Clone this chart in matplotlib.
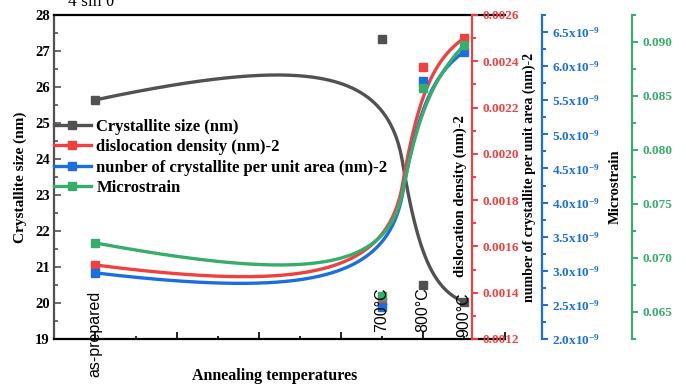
import numpy as np
import matplotlib
matplotlib.use('Agg')
import matplotlib.pyplot as plt
from matplotlib.lines import Line2D
from matplotlib.ticker import MultipleLocator, FuncFormatter

plt.rcParams['font.family'] = 'Liberation Serif'
plt.rcParams['font.weight'] = 'bold'
plt.rcParams['mathtext.fontset'] = 'custom'
plt.rcParams['mathtext.rm'] = 'Liberation Serif:bold'
plt.rcParams['mathtext.bf'] = 'Liberation Serif:bold'

# data
temps = [0, 700, 800, 900]
temp_labels = ['as-prepared', '700°C', '800°C', '900°C']
crystallite = [25.64, 27.33, 20.50, 20.03]
dislocation = [0.00152, 0.00136, 0.002375, 0.00250]
number_area = [2.97e-9, 2.47e-9, 5.78e-9, 6.21e-9]
microstrain = [0.0714, 0.0665, 0.0857, 0.0897]

c_gray, c_red, c_blue, c_green = '#515151', '#F14040', '#1A6FDF', '#37AD6B'


def bspline(xs, ys, n=150, w=1.3):
    # B-spline style connecting line: ends on first/last point, pulled toward the others
    P = np.column_stack([xs, ys]).astype(float)
    k = len(P) - 2
    t = np.linspace(0, 1, n)[:, None]
    out = []
    for i in range(k):
        a = P[0] if i == 0 else (P[i] + P[i + 1]) / 2
        b = P[i + 1]
        c = P[-1] if i == k - 1 else (P[i + 1] + P[i + 2]) / 2
        b0, b1, b2 = (1 - t) ** 2, 2 * w * t * (1 - t), t ** 2
        out.append((b0 * a + b1 * b + b2 * c) / (b0 + b1 + b2))
    s = np.vstack(out)
    return s[:, 0], s[:, 1]


fig = plt.figure(figsize=(6.86, 3.85), dpi=100)
ax = fig.add_axes([54 / 686, 46 / 385, 451 / 686, 324 / 385])
ax2 = ax.twinx()
ax3 = ax.twinx()
ax4 = ax.twinx()

lw = 2.4
ms = 5.5
series = [(ax, crystallite, c_gray), (ax2, dislocation, c_red),
          (ax3, number_area, c_blue), (ax4, microstrain, c_green)]
for a, ys, c in series:
    xc, yc = bspline(temps, ys)
    a.plot(xc, yc, color=c, lw=lw, zorder=3)
    a.plot(temps, ys, ls='none', marker='s', ms=ms, color=c, zorder=4)

# main axes
ax.set_xlim(-100, 1000)
ax.set_ylim(19, 28)
ax.xaxis.set_major_locator(MultipleLocator(200))
ax.xaxis.set_minor_locator(MultipleLocator(100))
ax.yaxis.set_major_locator(MultipleLocator(1))
ax.yaxis.set_minor_locator(MultipleLocator(0.5))
ax.tick_params(axis='x', which='both', direction='in', labelbottom=False, top=False, width=1.2)
ax.tick_params(axis='x', which='major', length=5)
ax.tick_params(axis='x', which='minor', length=2.5)
ax.tick_params(axis='y', which='both', direction='in', colors=c_gray, labelcolor='black',
               labelsize=10.5, width=1.2, pad=3)
ax.tick_params(axis='y', which='major', length=5)
ax.tick_params(axis='y', which='minor', length=3)
ax.spines['right'].set_visible(False)
ax.spines['left'].set_color(c_gray)
for s in ['left', 'top', 'bottom']:
    ax.spines[s].set_linewidth(1.6)
ax.set_ylabel('Crystallite size (nm)', fontsize=11, fontweight='bold')
ax.yaxis.set_label_coords(-0.06, 0.5)
ax.set_xlabel('Annealing temperatures', fontsize=11.5, fontweight='bold')
ax.xaxis.set_label_coords(0.49, -0.09)

# right axes
right_specs = [
    (ax2, c_red, 0.927, (0.0012, 0.0026), 0.0002, 0.0001,
     lambda v, p: '%.4f' % v, 'dislocation density (nm)-2', (0.90, 0.44), 10.5),
    (ax3, c_blue, 1.082, (2.0e-9, 6.75e-9), 0.5e-9, 0.25e-9,
     lambda v, p: r'$\mathbf{%.1fx10^{-9}}$' % (v * 1e9),
     'number of crystallite per unit area (nm)-2', (1.054, 0.5), 10),
    (ax4, c_green, 1.2816, (0.0625, 0.0925), 0.005, 0.0025,
     lambda v, p: '%.3f' % v, 'Microstrain', (1.245, 0.47), 10.5),
]
for a, c, pos, lim, major, minor, fmt, label, lc, fs in right_specs:
    a.set_ylim(*lim)
    for s in ['left', 'top', 'bottom']:
        a.spines[s].set_visible(False)
    a.spines['right'].set_position(('axes', pos))
    a.spines['right'].set_color(c)
    a.spines['right'].set_linewidth(1.6)
    a.yaxis.set_major_locator(MultipleLocator(major))
    a.yaxis.set_minor_locator(MultipleLocator(minor))
    a.yaxis.set_major_formatter(FuncFormatter(fmt))
    a.tick_params(axis='y', which='both', direction='out', colors=c, width=1.4,
                  labelsize=9.5, pad=3)
    a.tick_params(axis='y', which='major', length=4.5)
    a.tick_params(axis='y', which='minor', length=3)
    a.set_ylabel(label, fontsize=fs, fontweight='bold', color='black')
    a.yaxis.set_label_coords(*lc)
    a.yaxis.label.set_verticalalignment('center')

# temperature labels next to the points
label_y = [0.016, 0.09, 0.09, 0.075]
for xv, txt, yv in zip(temps, temp_labels, label_y):
    ax4.text(xv, yv, txt, transform=ax4.get_xaxis_transform(), rotation=90,
             ha='center', va='center', fontsize=11.5, fontweight='normal',
             family='Liberation Sans', zorder=5)

handles = [Line2D([], [], color=c, lw=lw, marker='s', ms=ms)
           for c in [c_gray, c_red, c_blue, c_green]]
names = ['Crystallite size (nm)', 'dislocation density (nm)-2',
         'nunber of crystallite per unit area (nm)-2', 'Microstrain']
ax4.legend(handles, names, loc='upper left', bbox_to_anchor=(0.0, 0.68),
           frameon=False, handlelength=2.2, handletextpad=0.35,
           labelspacing=0.27, borderaxespad=0, borderpad=0,
           prop={'family': 'Liberation Serif', 'weight': 'bold', 'size': 12})

fig.text(68 / 686, 1 - 6 / 385, '4 sin θ', fontsize=12.5, fontweight='normal',
         va='baseline', ha='left')

plt.savefig('out.png', dpi=100)
